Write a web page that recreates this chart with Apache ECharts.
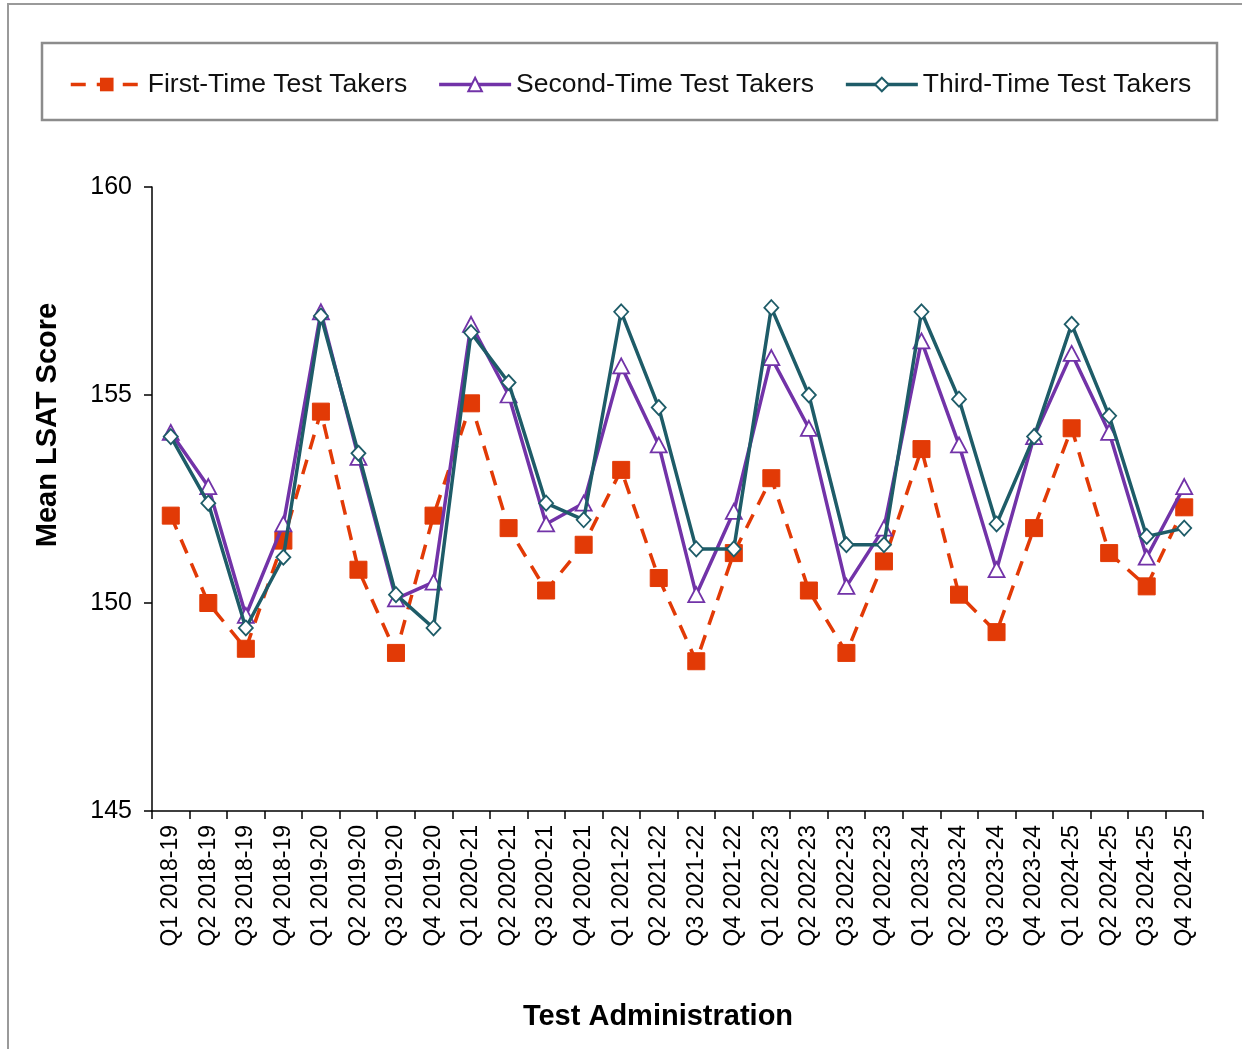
<!DOCTYPE html>
<html>
<head>
<meta charset="utf-8">
<script src="https://cdn.jsdelivr.net/npm/echarts@6/dist/echarts.min.js"></script>
<style>
  html, body { margin: 0; padding: 0; background: #fff; }
  #main { width: 1242px; height: 1049px; }
</style>
</head>
<body>
<div id="main"></div>
<script>
// quarters of each testing year
var categories = [
  'Q1 2018-19', 'Q2 2018-19', 'Q3 2018-19', 'Q4 2018-19',
  'Q1 2019-20', 'Q2 2019-20', 'Q3 2019-20', 'Q4 2019-20',
  'Q1 2020-21', 'Q2 2020-21', 'Q3 2020-21', 'Q4 2020-21',
  'Q1 2021-22', 'Q2 2021-22', 'Q3 2021-22', 'Q4 2021-22',
  'Q1 2022-23', 'Q2 2022-23', 'Q3 2022-23', 'Q4 2022-23',
  'Q1 2023-24', 'Q2 2023-24', 'Q3 2023-24', 'Q4 2023-24',
  'Q1 2024-25', 'Q2 2024-25', 'Q3 2024-25', 'Q4 2024-25'
];
var firstTime = [
  152.1, 150.0, 148.9, 151.5,
  154.6, 150.8, 148.8, 152.1,
  154.8, 151.8, 150.3, 151.4,
  153.2, 150.6, 148.6, 151.2,
  153.0, 150.3, 148.8, 151.0,
  153.7, 150.2, 149.3, 151.8,
  154.2, 151.2, 150.4, 152.3
];
var secondTime = [
  154.1, 152.8, 149.7, 151.9,
  157.0, 153.5, 150.1, 150.5,
  156.7, 155.0, 151.9, 152.4,
  155.7, 153.8, 150.2, 152.2,
  155.9, 154.2, 150.4, 151.8,
  156.3, 153.8, 150.8, 154.0,
  156.0, 154.1, 151.1, 152.8
];
var thirdTime = [
  154.0, 152.4, 149.4, 151.1,
  156.9, 153.6, 150.2, 149.4,
  156.5, 155.3, 152.4, 152.0,
  157.0, 154.7, 151.3, 151.3,
  157.1, 155.0, 151.4, 151.4,
  157.0, 154.9, 151.9, 154.0,
  156.7, 154.5, 151.6, 151.8
];
var yTicks = [145, 150, 155, 160];

var FONT = 'Liberation Sans, Arial, sans-serif';
var RED = '#E23A06';
var PURPLE = '#7233A8';
var TEAL = '#1E5C68';

var chart = echarts.init(document.getElementById('main'), null, { renderer: 'canvas' });

var option = {
  backgroundColor: '#fff',
  animation: false,
  textStyle: { fontFamily: FONT },
  graphic: [
    // outer frame
    { type: 'rect', shape: { x: 8, y: 4, width: 1250, height: 1070 },
      style: { fill: 'none', stroke: '#9a9a9a', lineWidth: 2 }, silent: true },
    // legend box
    { type: 'rect', shape: { x: 42, y: 43, width: 1175, height: 77 },
      style: { fill: '#fff', stroke: '#8c8c8c', lineWidth: 2.5 }, z: 0, silent: true },
    // axis titles
    { type: 'text', x: 48, y: 425, rotation: Math.PI / 2,
      style: { text: 'Mean LSAT Score', font: 'bold 29px ' + FONT, fill: '#000',
        align: 'center', verticalAlign: 'middle' }, silent: true },
    { type: 'text', x: 658, y: 1017,
      style: { text: 'Test Administration', font: 'bold 29px ' + FONT, fill: '#000',
        align: 'center', verticalAlign: 'middle' }, silent: true }
  ],
  legend: {
    top: 66,
    left: 64,
    itemWidth: 72,
    itemHeight: 17,
    itemGap: 30,
    lineStyle: { width: 3.5 },
    textStyle: { fontFamily: FONT, fontSize: 26.5, color: '#111' },
    data: ['First-Time Test Takers', 'Second-Time Test Takers', 'Third-Time Test Takers']
  },
  grid: { left: 152, top: 187, right: 39, bottom: 238, containLabel: false },
  xAxis: {
    type: 'category',
    data: categories,
    boundaryGap: true,
    axisLine: { lineStyle: { color: '#000', width: 1.5 } },
    axisTick: { show: true, alignWithLabel: false, length: 8, lineStyle: { color: '#000', width: 1.5 } },
    axisLabel: { rotate: 90, fontSize: 23, color: '#000', margin: 14, fontFamily: FONT, interval: 0 },
    splitLine: { show: false }
  },
  yAxis: {
    type: 'value',
    min: yTicks[0],
    max: yTicks[yTicks.length - 1],
    interval: 5,
    axisLine: { show: true, lineStyle: { color: '#000', width: 1.5 } },
    axisTick: { show: true, length: 8, lineStyle: { color: '#000', width: 1.5 } },
    axisLabel: { fontSize: 25, color: '#000', margin: 20, fontFamily: FONT },
    splitLine: { show: false }
  },
  series: [
    {
      name: 'First-Time Test Takers',
      type: 'line',
      data: firstTime,
      symbol: 'rect',
      symbolSize: 17,
      itemStyle: { color: RED, borderColor: RED },
      lineStyle: { color: RED, width: 3.5, type: [15, 11] },
      z: 2
    },
    {
      name: 'Second-Time Test Takers',
      type: 'line',
      data: secondTime,
      symbol: 'triangle',
      symbolSize: [16, 15],
      itemStyle: { color: '#fff', borderColor: PURPLE, borderWidth: 1.8 },
      lineStyle: { color: PURPLE, width: 3.5 },
      z: 3
    },
    {
      name: 'Third-Time Test Takers',
      type: 'line',
      data: thirdTime,
      symbol: 'diamond',
      symbolSize: [14, 15],
      itemStyle: { color: '#fff', borderColor: TEAL, borderWidth: 1.8 },
      lineStyle: { color: TEAL, width: 3.5 },
      z: 4
    }
  ]
};

chart.setOption(option);
</script>
</body>
</html>
